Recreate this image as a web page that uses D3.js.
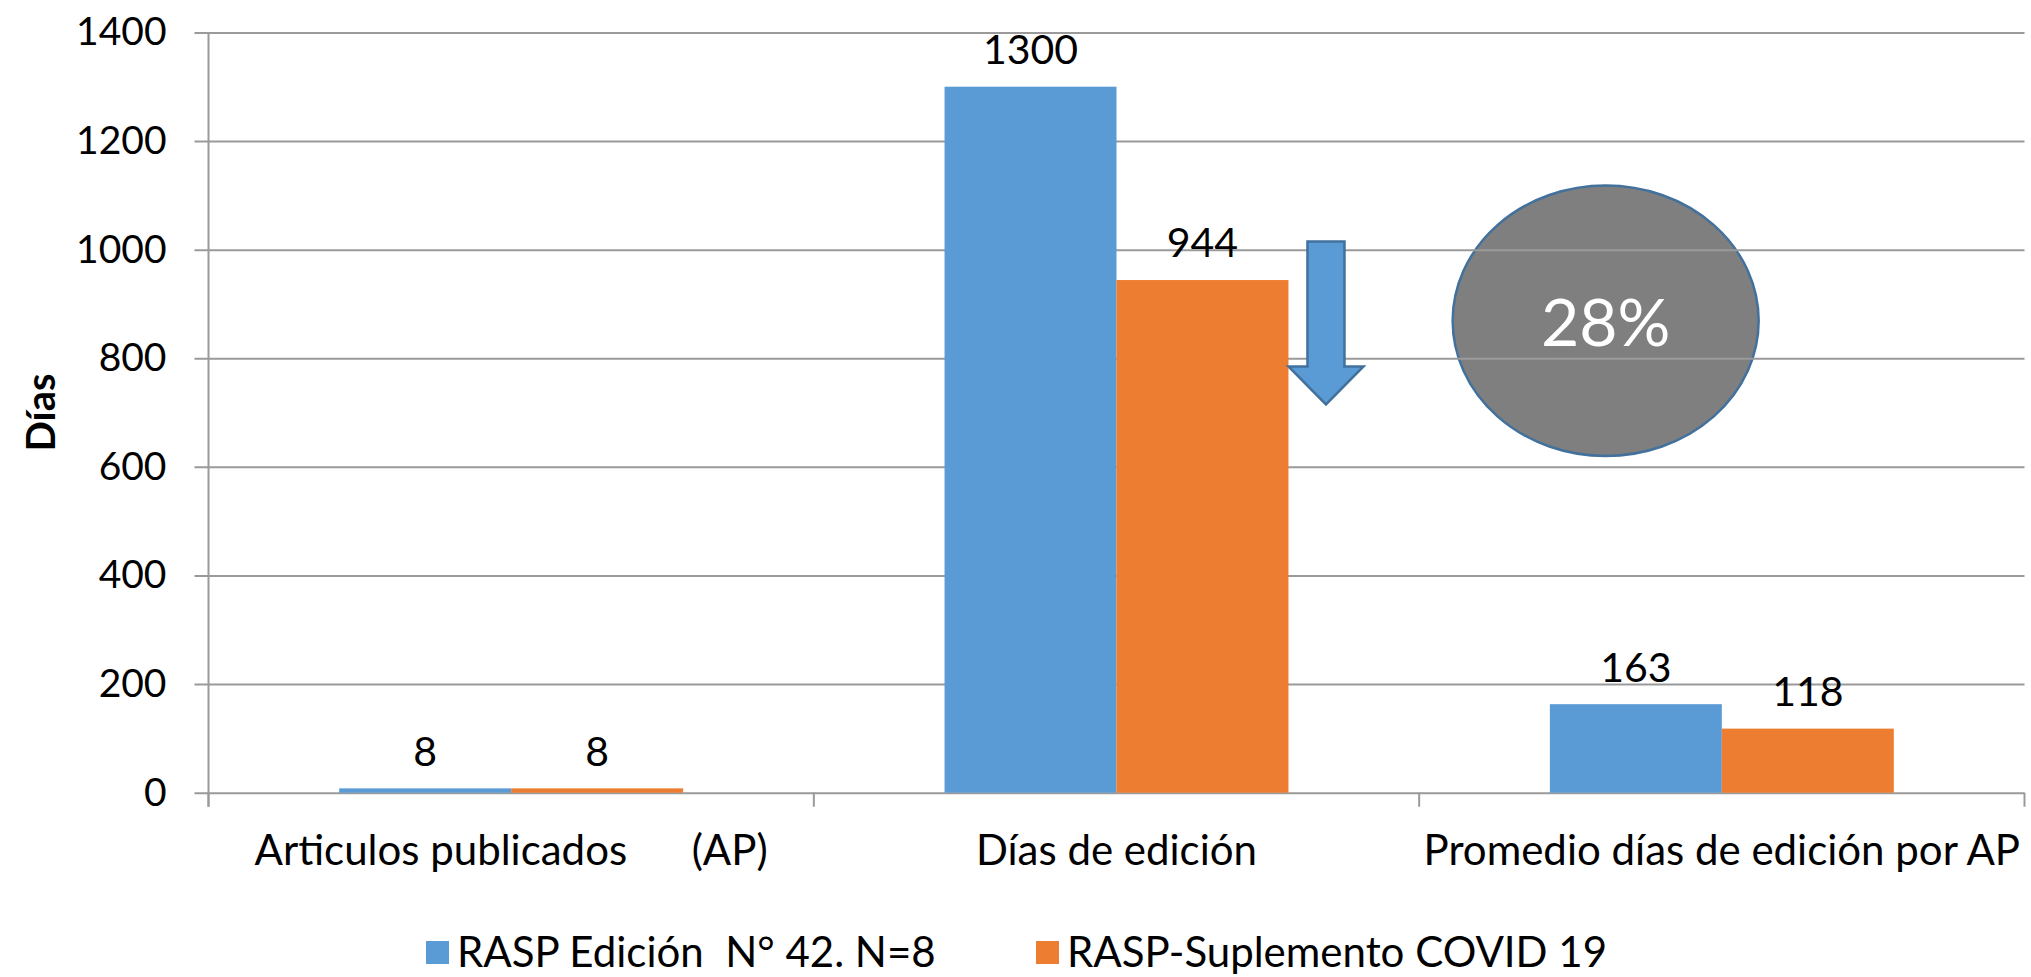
<!DOCTYPE html>
<html>
<head>
<meta charset="utf-8">
<script src="https://cdn.jsdelivr.net/npm/d3@7/dist/d3.min.js"></script>
<style>
  html, body { margin: 0; padding: 0; background: #fff; }
  svg { display: block; }
  text { font-family: Lato, "Open Sans", sans-serif; fill: #000; }
</style>
</head>
<body>
<svg id="chart" width="2031" height="977"></svg>
<script>
// ---- data ----
const categories = ["Articulos publicados      (AP)", "Días de edición", "Promedio días de edición por AP"];
const seriesNames = ["RASP Edición  N° 42. N=8", "RASP-Suplemento COVID 19"];
const seriesA = [8, 1300, 163];
const seriesB = [8, 944, 118];
const yTicks = [0, 200, 400, 600, 800, 1000, 1200, 1400];
const yTitle = "Días";
const highlightLabel = "28%";
const colors = ["#5B9BD5", "#ED7D31"];

const rows = categories.map((c, i) => ({ cat: c, values: [seriesA[i], seriesB[i]] }));

// ---- layout ----
const W = 2031, H = 977;
const plot = { left: 208.5, right: 2024.5, top: 32.4, bottom: 792.7 };
const svg = d3.select("#chart");

const x = d3.scaleBand().domain(categories).range([plot.left, plot.right]).padding(0);
const xs = d3.scaleBand().domain(seriesNames).range([0, x.bandwidth()]).paddingInner(0).paddingOuter(0.76);
const y = d3.scaleLinear().domain([0, 1400]).range([plot.bottom, plot.top]);

const gridColor = "#9a9a9a";

// ---- annotation ellipse (behind gridlines) ----
const cat3 = categories[2];
const ellCx = x(cat3) + 186.5, ellCy = y(869);
svg.append("ellipse")
  .attr("cx", ellCx).attr("cy", ellCy)
  .attr("rx", 153).attr("ry", y(0) - y(249))
  .attr("fill", "#7F7F7F").attr("stroke", "#41719C").attr("stroke-width", 2.5);

// ---- gridlines + y axis ----
const yAxis = d3.axisLeft(y).tickValues(yTicks).tickSize(0).tickPadding(42).tickFormat(d3.format("d"));
const yg = svg.append("g").attr("transform", `translate(${plot.left},0)`).call(yAxis);
yg.select(".domain").remove();
yg.selectAll(".tick line").attr("stroke", gridColor).attr("stroke-width", 2).attr("x1", -14).attr("x2", plot.right - plot.left);
yg.selectAll(".tick text").attr("font-size", 39).attr("font-family", "Lato").attr("fill", "#000");

// vertical axis line
svg.append("line").attr("x1", plot.left).attr("x2", plot.left).attr("y1", plot.top).attr("y2", plot.bottom + 14)
  .attr("stroke", gridColor).attr("stroke-width", 2);

// x axis category ticks
const xg = svg.append("g").attr("transform", `translate(0,${plot.bottom})`);
const dividers = categories.map(c => x(c)).concat([x(categories[categories.length - 1]) + x.bandwidth()]);
xg.selectAll("line.div").data(dividers).join("line").attr("class", "div")
  .attr("x1", d => d).attr("x2", d => d).attr("y1", 0).attr("y2", 14)
  .attr("stroke", gridColor).attr("stroke-width", 2);

// category labels
svg.append("g").selectAll("text").data(categories).join("text")
  .attr("x", d => x(d) + x.bandwidth() / 2)
  .attr("y", 865)
  .attr("text-anchor", "middle")
  .attr("font-size", 42)
  .style("white-space", "pre")
  .attr("xml:space", "preserve")
  .text(d => d);

// ---- bars ----
const groups = svg.append("g").selectAll("g").data(rows).join("g")
  .attr("transform", d => `translate(${x(d.cat)},0)`);
groups.selectAll("rect").data(d => d.values.map((v, i) => ({ v, s: seriesNames[i], i }))).join("rect")
  .attr("x", d => xs(d.s))
  .attr("width", xs.bandwidth())
  .attr("y", d => y(d.v))
  .attr("height", d => y(0) - y(d.v))
  .attr("fill", d => colors[d.i]);

// value labels
groups.selectAll("text").data(d => d.values.map((v, i) => ({ v, s: seriesNames[i], i }))).join("text")
  .attr("x", d => xs(d.s) + xs.bandwidth() / 2)
  .attr("y", d => y(d.v) - 37)
  .attr("dy", "0.35em")
  .attr("text-anchor", "middle")
  .attr("font-size", 41)
  .text(d => d.v);

// ---- down arrow next to "Días de edición" ----
const cat2 = categories[1];
const barRight = x(cat2) + xs(seriesNames[1]) + xs.bandwidth();
const aTop = y(1015), aBase = y(785), aTip = y(715);
const arrowPts = [
  [barRight + 19, aTop], [barRight + 56, aTop], [barRight + 56, aBase], [barRight + 75, aBase],
  [barRight + 37.5, aTip], [barRight, aBase], [barRight + 19, aBase]
];
svg.append("path")
  .attr("d", d3.line()(arrowPts) + "Z")
  .attr("fill", "#5B9BD5").attr("stroke", "#41719C").attr("stroke-width", 2.5).attr("stroke-linejoin", "miter");

// ellipse label (on top)
svg.append("text")
  .attr("x", ellCx).attr("y", ellCy + 2)
  .attr("dy", "0.35em")
  .attr("text-anchor", "middle")
  .attr("font-size", 66)
  .style("fill", "#fff")
  .text(highlightLabel);

// ---- y title ----
svg.append("text")
  .attr("transform", `translate(41,${(plot.top + plot.bottom) / 2}) rotate(-90)`)
  .attr("text-anchor", "middle")
  .attr("dy", "0.35em")
  .attr("font-size", 40)
  .attr("font-weight", "bold")
  .text(yTitle);

// ---- legend ----
const legend = svg.append("g");
const legX = [426, 1036];
seriesNames.forEach((s, i) => {
  const g = legend.append("g").attr("transform", `translate(${legX[i]},952)`);
  g.append("rect").attr("x", 0).attr("y", -11).attr("width", 23).attr("height", 23).attr("fill", colors[i]);
  g.append("text").attr("x", 31).attr("y", 0).attr("dy", "0.35em").attr("font-size", 42)
    .attr("xml:space", "preserve").style("white-space", "pre").text(s);
});
</script>
</body>
</html>
